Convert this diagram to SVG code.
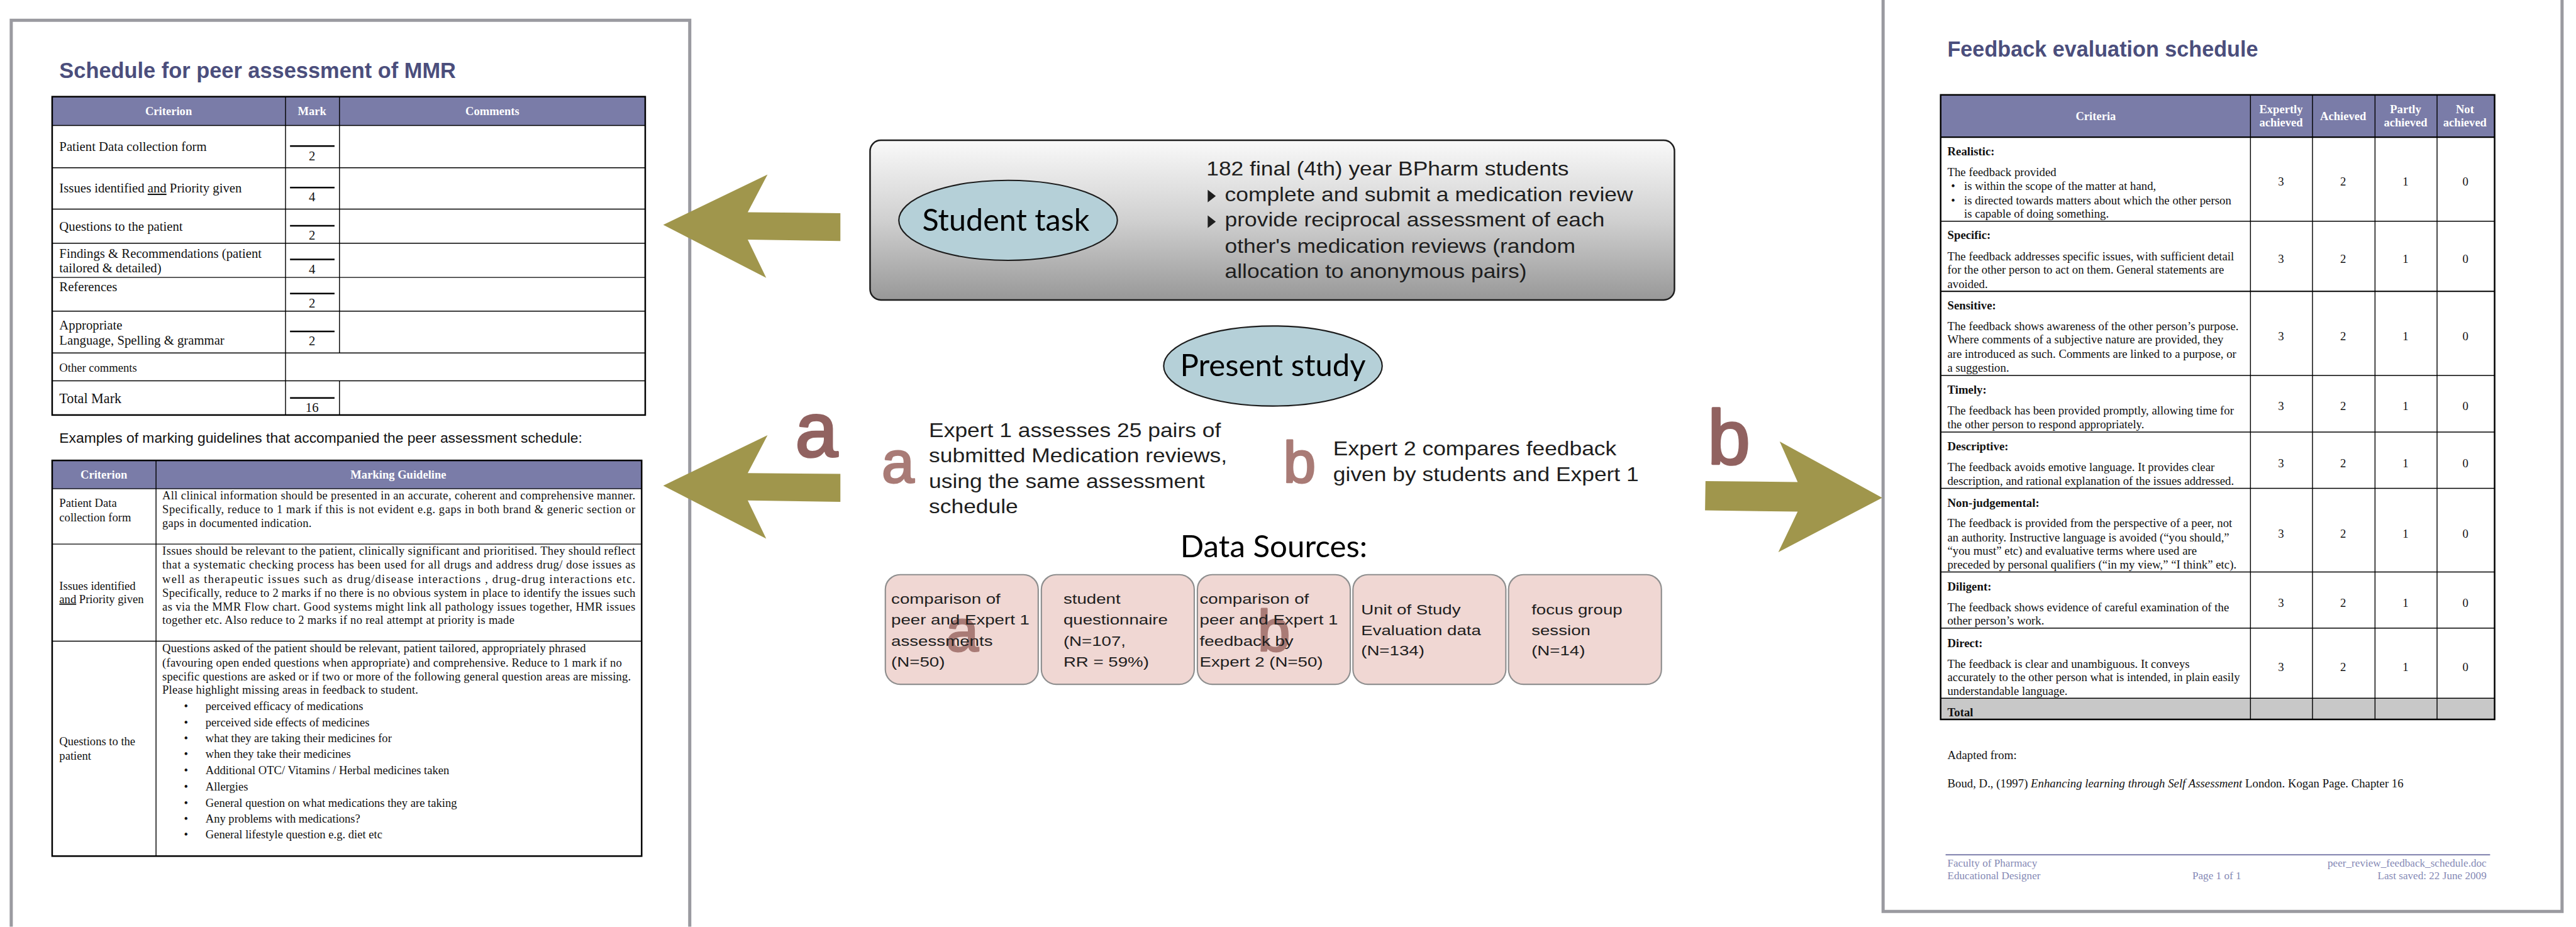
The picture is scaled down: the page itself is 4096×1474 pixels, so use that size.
<svg xmlns="http://www.w3.org/2000/svg" width="4096" height="1474" viewBox="0 0 4096 1474">
<defs>
<style>
.serif{font-family:"Liberation Serif","Times New Roman",serif;fill:#111}
.sans{font-family:"Liberation Sans",Arial,sans-serif}
.title{font-family:"Liberation Sans",Arial,sans-serif;font-weight:bold;font-size:48px;fill:#4b4e7c}
.page{fill:none;stroke:#9a9aa0;stroke-width:7}
.hdr{fill:#7a7ca8}
.hdrtxt{font-family:"Liberation Serif","Times New Roman",serif;font-weight:bold;font-size:26px;fill:#fff;text-anchor:middle}
.grid{stroke:#000;stroke-width:2;fill:none}
.outer{stroke:#000;stroke-width:3.5;fill:none}
.mk{stroke:#000;stroke-width:3.5}
.t29{font-size:29px}
.t26{font-size:26px}
.t263{font-size:26.3px}
.num{text-anchor:middle}
.b{font-weight:bold}
.arrow{fill:#a0964c}
.ell{fill:#b5d0d8;stroke:#1c1c1c;stroke-width:3}
.gill{font-family:Lato,"Open Sans",sans-serif;font-size:68px;fill:#000;text-anchor:middle}
.main{font-family:"Liberation Sans",Arial,sans-serif;font-size:45px;fill:#1e1e1e}
.box{fill:#f0d7d3;stroke:#8f8f8f;stroke-width:3}
.boxt{font-family:"Liberation Sans",Arial,sans-serif;font-size:32px;fill:#1e1e1e}
.big{font-family:"Liberation Sans",Arial,sans-serif;font-size:170px;fill:#916260;stroke:#916260;stroke-width:5;stroke-linejoin:round;text-anchor:middle}
.mid{font-family:"Liberation Sans",Arial,sans-serif;font-size:130px;fill:#a97b76;stroke:#a97b76;stroke-width:4;stroke-linejoin:round;text-anchor:middle}
.foot{font-family:"Liberation Serif","Times New Roman",serif;font-size:24px;fill:#8589b5}
</style>
<linearGradient id="taskFill" x1="0" y1="0" x2="0" y2="1">
<stop offset="0" stop-color="#f9f9f9"/>
<stop offset="0.5" stop-color="#d0d0d0"/>
<stop offset="1" stop-color="#989898"/>
</linearGradient>
</defs>
<rect width="4096" height="1474" fill="#fff"/>
<g transform="scale(0.714958)">

<!-- Left document: peer assessment schedule -->
<g id="page-peer-assessment">
<path class="page" d="M25,2061 V45 H1534 V2061"/>
<text class="title" x="132" y="173" textLength="882" lengthAdjust="spacingAndGlyphs">Schedule for peer assessment of MMR</text>

<g id="table-marks">
<rect class="hdr" x="116" y="215" width="1319" height="64"/>
<text class="hdrtxt" x="375" y="256">Criterion</text>
<text class="hdrtxt" x="694" y="256">Mark</text>
<text class="hdrtxt" x="1095" y="256">Comments</text>
<g class="grid">
<line x1="116" y1="279" x2="1435" y2="279"/>
<line x1="116" y1="373" x2="1435" y2="373"/>
<line x1="116" y1="465" x2="1435" y2="465"/>
<line x1="116" y1="541" x2="1435" y2="541"/>
<line x1="116" y1="617" x2="1435" y2="617"/>
<line x1="116" y1="692" x2="1435" y2="692"/>
<line x1="116" y1="785" x2="1435" y2="785"/>
<line x1="116" y1="847" x2="1435" y2="847"/>
<line x1="635" y1="215" x2="635" y2="923"/>
<line x1="755" y1="215" x2="755" y2="785"/>
<line x1="755" y1="847" x2="755" y2="923"/>
</g>
<rect class="outer" x="116" y="215" width="1319" height="708"/>
<g class="mk">
<line x1="645" y1="325" x2="744" y2="325"/>
<line x1="645" y1="417" x2="744" y2="417"/>
<line x1="645" y1="502" x2="744" y2="502"/>
<line x1="645" y1="577" x2="744" y2="577"/>
<line x1="645" y1="653" x2="744" y2="653"/>
<line x1="645" y1="737" x2="744" y2="737"/>
<line x1="645" y1="885" x2="744" y2="885"/>
</g>
<g class="serif t29">
<text x="132" y="336">Patient Data collection form</text>
<text x="132" y="428">Issues identified <tspan text-decoration="underline">and</tspan> Priority given</text>
<text x="132" y="514">Questions to the patient</text>
<text x="132" y="573">Findings &amp; Recommendations (patient</text>
<text x="132" y="606">tailored &amp; detailed)</text>
<text x="132" y="648">References</text>
<text x="132" y="733">Appropriate</text>
<text x="132" y="767">Language, Spelling &amp; grammar</text>
<text x="132" y="827" style="font-size:26px">Other comments</text>
<text x="132" y="897" style="font-size:31px">Total Mark</text>
<g class="num">
<text x="694" y="357">2</text>
<text x="694" y="448">4</text>
<text x="694" y="533">2</text>
<text x="694" y="608">4</text>
<text x="694" y="684">2</text>
<text x="694" y="768">2</text>
<text x="694" y="916">16</text>
</g>
</g>
</g>

<text class="sans" x="132" y="984" style="font-size:30px;fill:#111" textLength="1163" lengthAdjust="spacingAndGlyphs">Examples of marking guidelines that accompanied the peer assessment schedule:</text>

<g id="table-guidelines">
<rect class="hdr" x="116" y="1024" width="1311" height="63"/>
<text class="hdrtxt" x="231" y="1064">Criterion</text>
<text class="hdrtxt" x="886" y="1064">Marking Guideline</text>
<g class="grid">
<line x1="116" y1="1087" x2="1427" y2="1087"/>
<line x1="116" y1="1210" x2="1427" y2="1210"/>
<line x1="116" y1="1426" x2="1427" y2="1426"/>
<line x1="347" y1="1024" x2="347" y2="1904"/>
</g>
<rect class="outer" x="116" y="1024" width="1311" height="880"/>
<g class="serif t26">
<text x="132" y="1128">Patient Data</text>
<text x="132" y="1159">collection form</text>
<text x="361" y="1110" textLength="1052" lengthAdjust="spacing">All clinical information should be presented in an accurate, coherent and comprehensive manner.</text>
<text x="361" y="1141" textLength="1052" lengthAdjust="spacing">Specifically, reduce to 1 mark if this is not evident e.g. gaps in both brand &amp; generic section or</text>
<text x="361" y="1172" textLength="332" lengthAdjust="spacing">gaps in documented indication.</text>

<text x="132" y="1312">Issues identified</text>
<text x="132" y="1341"><tspan text-decoration="underline">and</tspan> Priority given</text>
<text x="361" y="1234" textLength="1052" lengthAdjust="spacing">Issues should be relevant to the patient, clinically significant and prioritised.  They should reflect</text>
<text x="361" y="1265" textLength="1052" lengthAdjust="spacing">that a systematic checking process has been used for all drugs and address drug/ dose issues as</text>
<text x="361" y="1296" textLength="1052" lengthAdjust="spacing">well as therapeutic issues such as drug/disease interactions , drug-drug interactions etc.</text>
<text x="361" y="1327" textLength="1052" lengthAdjust="spacing">Specifically, reduce to 2 marks if no there is no obvious system in place to identify the issues such</text>
<text x="361" y="1358" textLength="1052" lengthAdjust="spacing">as via the MMR Flow chart.  Good systems might link all pathology issues together, HMR issues</text>
<text x="361" y="1388" textLength="783" lengthAdjust="spacing">together etc.  Also reduce to 2 marks if no real attempt at priority is made</text>

<text x="132" y="1658">Questions to the</text>
<text x="132" y="1689">patient</text>
<text x="361" y="1451" textLength="942" lengthAdjust="spacing">Questions asked of the patient should be relevant, patient tailored, appropriately phrased</text>
<text x="361" y="1482" textLength="1022" lengthAdjust="spacing">(favouring open ended questions when appropriate) and comprehensive. Reduce to 1 mark if no</text>
<text x="361" y="1513" textLength="1042" lengthAdjust="spacing">specific questions are asked or if two or more of the following general question areas are missing.</text>
<text x="361" y="1543" textLength="569" lengthAdjust="spacing">Please highlight missing areas in feedback to student.</text>
<g>
<text x="409" y="1579">•</text><text x="457" y="1579">perceived efficacy of medications</text>
<text x="409" y="1615">•</text><text x="457" y="1615">perceived side effects of medicines</text>
<text x="409" y="1650">•</text><text x="457" y="1650">what they are taking their medicines for</text>
<text x="409" y="1686">•</text><text x="457" y="1686">when they take their medicines</text>
<text x="409" y="1722">•</text><text x="457" y="1722">Additional OTC/ Vitamins / Herbal medicines taken</text>
<text x="409" y="1758">•</text><text x="457" y="1758">Allergies</text>
<text x="409" y="1794">•</text><text x="457" y="1794">General question on what medications they are taking</text>
<text x="409" y="1830">•</text><text x="457" y="1830">Any problems with medications?</text>
<text x="409" y="1865">•</text><text x="457" y="1865">General lifestyle question e.g. diet etc</text>
</g>
</g>
</g>
</g>

<!-- Right document: feedback evaluation schedule -->
<g id="page-feedback-evaluation">
<path class="page" d="M4188,0 V2027 H5698 V0"/>
<text class="title" x="4331" y="126" textLength="691" lengthAdjust="spacingAndGlyphs">Feedback evaluation schedule</text>

<g id="table-feedback">
<rect class="hdr" x="4316" y="211" width="1232" height="94"/>
<rect x="4316" y="1553" width="1232" height="47" fill="#c8c8c8"/>
<text class="hdrtxt" x="4661" y="267">Criteria</text>
<text class="hdrtxt" x="5073" y="252">Expertly</text>
<text class="hdrtxt" x="5073" y="281">achieved</text>
<text class="hdrtxt" x="5211" y="267">Achieved</text>
<text class="hdrtxt" x="5350" y="252">Partly</text>
<text class="hdrtxt" x="5350" y="281">achieved</text>
<text class="hdrtxt" x="5482" y="252">Not</text>
<text class="hdrtxt" x="5482" y="281">achieved</text>
<g class="grid">
<line x1="4316" y1="305" x2="5548" y2="305" style="stroke-width:3"/>
<line x1="4316" y1="492" x2="5548" y2="492"/>
<line x1="4316" y1="648" x2="5548" y2="648" style="stroke-width:3"/>
<line x1="4316" y1="835" x2="5548" y2="835"/>
<line x1="4316" y1="961" x2="5548" y2="961"/>
<line x1="4316" y1="1086" x2="5548" y2="1086"/>
<line x1="4316" y1="1272" x2="5548" y2="1272"/>
<line x1="4316" y1="1397" x2="5548" y2="1397"/>
<line x1="4316" y1="1553" x2="5548" y2="1553"/>
<line x1="5005" y1="211" x2="5005" y2="1600"/>
<line x1="5143" y1="211" x2="5143" y2="1600"/>
<line x1="5282" y1="211" x2="5282" y2="1600"/>
<line x1="5420" y1="211" x2="5420" y2="1600"/>
</g>
<rect class="outer" x="4316" y="211" width="1232" height="1389"/>

<g class="serif t263">
<text class="b" x="4331" y="345">Realistic:</text>
<text x="4331" y="392">The feedback provided</text>
<text x="4339" y="423">•</text><text x="4368" y="423">is within the scope of the matter at hand,</text>
<text x="4339" y="454">•</text><text x="4368" y="454">is directed towards matters about which the other person</text>
<text x="4368" y="484">is capable of doing something.</text>

<text class="b" x="4331" y="531">Specific:</text>
<text x="4331" y="579">The feedback addresses specific issues, with sufficient detail</text>
<text x="4331" y="609">for the other person to act on them. General statements are</text>
<text x="4331" y="640">avoided.</text>

<text class="b" x="4331" y="688">Sensitive:</text>
<text x="4331" y="734">The feedback shows awareness of the other person’s purpose.</text>
<text x="4331" y="764">Where comments of a subjective nature are provided, they</text>
<text x="4331" y="796">are introduced as such. Comments are linked to a purpose, or</text>
<text x="4331" y="826">a suggestion.</text>

<text class="b" x="4331" y="875">Timely:</text>
<text x="4331" y="922">The feedback has been provided promptly, allowing time for</text>
<text x="4331" y="952">the other person to respond appropriately.</text>

<text class="b" x="4331" y="1001">Descriptive:</text>
<text x="4331" y="1047">The feedback avoids emotive language. It provides clear</text>
<text x="4331" y="1079">description, and rational explanation of the issues addressed.</text>

<text class="b" x="4331" y="1127">Non-judgemental:</text>
<text x="4331" y="1172">The feedback is provided from the perspective of a peer, not</text>
<text x="4331" y="1204">an authority. Instructive language is avoided (“you should,”</text>
<text x="4331" y="1233">“you must” etc) and evaluative terms where used are</text>
<text x="4331" y="1265">preceded by personal qualifiers (“in my view,” “I think” etc).</text>

<text class="b" x="4331" y="1313">Diligent:</text>
<text x="4331" y="1359">The feedback shows evidence of careful examination of the</text>
<text x="4331" y="1389">other person’s work.</text>

<text class="b" x="4331" y="1439">Direct:</text>
<text x="4331" y="1485">The feedback is clear and unambiguous. It conveys</text>
<text x="4331" y="1515">accurately to the other person what is intended, in plain easily</text>
<text x="4331" y="1545">understandable language.</text>

<text class="b" x="4331" y="1593">Total</text>

<g class="num">
<text x="5073" y="413">3</text><text x="5211" y="413">2</text><text x="5350" y="413">1</text><text x="5483" y="413">0</text>
<text x="5073" y="585">3</text><text x="5211" y="585">2</text><text x="5350" y="585">1</text><text x="5483" y="585">0</text>
<text x="5073" y="756">3</text><text x="5211" y="756">2</text><text x="5350" y="756">1</text><text x="5483" y="756">0</text>
<text x="5073" y="912">3</text><text x="5211" y="912">2</text><text x="5350" y="912">1</text><text x="5483" y="912">0</text>
<text x="5073" y="1039">3</text><text x="5211" y="1039">2</text><text x="5350" y="1039">1</text><text x="5483" y="1039">0</text>
<text x="5073" y="1196">3</text><text x="5211" y="1196">2</text><text x="5350" y="1196">1</text><text x="5483" y="1196">0</text>
<text x="5073" y="1350">3</text><text x="5211" y="1350">2</text><text x="5350" y="1350">1</text><text x="5483" y="1350">0</text>
<text x="5073" y="1492">3</text><text x="5211" y="1492">2</text><text x="5350" y="1492">1</text><text x="5483" y="1492">0</text>
</g>
</g>
</g>

<g class="serif t263">
<text x="4331" y="1688">Adapted from:</text>
<text x="4331" y="1751">Boud, D., (1997) <tspan font-style="italic">Enhancing learning through Self Assessment</tspan> London. Kogan Page. Chapter 16</text>
</g>

<line x1="4327" y1="1901" x2="5538" y2="1901" stroke="#8a8cb4" stroke-width="3"/>
<g class="foot">
<text x="4331" y="1928">Faculty of Pharmacy</text>
<text x="4331" y="1955">Educational Designer</text>
<text x="4930" y="1955" text-anchor="middle">Page 1 of 1</text>
<text x="5530" y="1928" text-anchor="end">peer_review_feedback_schedule.doc</text>
<text x="5530" y="1955" text-anchor="end">Last saved: 22 June 2009</text>
</g>
</g>

<!-- Student task panel -->
<g id="student-task">
<rect x="1935" y="312" width="1789" height="355" rx="24" ry="24" fill="url(#taskFill)" stroke="#1e1e1e" stroke-width="3.5"/>
<ellipse class="ell" cx="2242" cy="490" rx="243" ry="89"/>
<text class="gill" x="2237" y="513" textLength="372" lengthAdjust="spacingAndGlyphs">Student task</text>
<g transform="translate(2683 0) scale(1.1 1)">
<text class="main" x="0" y="390">182 final (4th) year BPharm students</text>
<path d="M2.7,422 L19,436 L2.7,450 Z M2.7,479 L19,493 L2.7,507 Z" fill="#1e1e1e"/>
<text class="main" x="37.3" y="447">complete and submit a medication review</text>
<text class="main" x="37.3" y="504">provide reciprocal assessment of each</text>
<text class="main" x="37.3" y="562">other's medication reviews (random</text>
<text class="main" x="37.3" y="618">allocation to anonymous pairs)</text>
</g>
</g>

<!-- Present study -->
<g id="present-study">
<ellipse class="ell" cx="2831" cy="814" rx="243" ry="89"/>
<text class="gill" x="2831" y="837" textLength="413" lengthAdjust="spacingAndGlyphs">Present study</text>
</g>

<g id="study-a">
<text class="mid" x="1997" y="1073">a</text>
<g transform="translate(2066 0) scale(1.1 1)">
<text class="main" x="0" y="972">Expert 1 assesses 25 pairs of</text>
<text class="main" x="0" y="1028">submitted Medication reviews,</text>
<text class="main" x="0" y="1085">using the same assessment</text>
<text class="main" x="0" y="1142">schedule</text>
</g>
</g>

<g id="study-b">
<text class="mid" x="2890" y="1073">b</text>
<g transform="translate(2965 0) scale(1.1 1)">
<text class="main" x="0" y="1013">Expert 2 compares feedback</text>
<text class="main" x="0" y="1070">given by students and Expert 1</text>
</g>
</g>

<!-- Data sources -->
<g id="data-sources">
<text class="gill" x="2833" y="1239" textLength="416" lengthAdjust="spacingAndGlyphs">Data Sources:</text>

<g id="source-1">
<rect class="box" x="1969" y="1278" width="340" height="244" rx="33" ry="33"/>
<text class="mid" x="2140" y="1447">a</text>
<g transform="translate(1982 0) scale(1.21 1)">
<text class="boxt" x="0" y="1343">comparison of</text>
<text class="boxt" x="0" y="1389">peer and Expert 1</text>
<text class="boxt" x="0" y="1436">assessments</text>
<text class="boxt" x="0" y="1482">(N=50)</text>
</g>
</g>

<g id="source-2">
<rect class="box" x="2316" y="1278" width="340" height="244" rx="33" ry="33"/>
<g transform="translate(2365 0) scale(1.21 1)">
<text class="boxt" x="0" y="1343">student</text>
<text class="boxt" x="0" y="1389">questionnaire</text>
<text class="boxt" x="0" y="1436">(N=107,</text>
<text class="boxt" x="0" y="1482">RR = 59%)</text>
</g>
</g>

<g id="source-3">
<rect class="box" x="2663" y="1278" width="340" height="244" rx="33" ry="33"/>
<text class="mid" x="2833" y="1447">b</text>
<g transform="translate(2668 0) scale(1.21 1)">
<text class="boxt" x="0" y="1343">comparison of</text>
<text class="boxt" x="0" y="1389">peer and Expert 1</text>
<text class="boxt" x="0" y="1436">feedback by</text>
<text class="boxt" x="0" y="1482">Expert 2 (N=50)</text>
</g>
</g>

<g id="source-4">
<rect class="box" x="3009" y="1278" width="340" height="244" rx="33" ry="33"/>
<g transform="translate(3027 0) scale(1.21 1)">
<text class="boxt" x="0" y="1366">Unit of Study</text>
<text class="boxt" x="0" y="1412">Evaluation data</text>
<text class="boxt" x="0" y="1458">(N=134)</text>
</g>
</g>

<g id="source-5">
<rect class="box" x="3355" y="1278" width="340" height="244" rx="33" ry="33"/>
<g transform="translate(3406 0) scale(1.21 1)">
<text class="boxt" x="0" y="1366">focus group</text>
<text class="boxt" x="0" y="1412">session</text>
<text class="boxt" x="0" y="1458">(N=14)</text>
</g>
</g>
</g>

<!-- Block arrows linking the panels to the documents -->
<g id="connectors">
<path class="arrow" d="M1475,500 L1707,388 L1663,472 L1869,474 L1869,536 L1663,533 L1704,618 Z"/>
<path class="arrow" d="M1475,1080 L1707,968 L1663,1052 L1869,1054 L1869,1116 L1663,1113 L1704,1198 Z"/>
<path class="arrow" d="M4186,1107 L3958,982 L3998,1072 L3793,1070 L3792,1135 L3998,1138 L3955,1228 Z"/>
<text class="big" x="1816" y="1015">a</text>
<text class="big" x="3845" y="1032">b</text>
</g>

</g>
</svg>
